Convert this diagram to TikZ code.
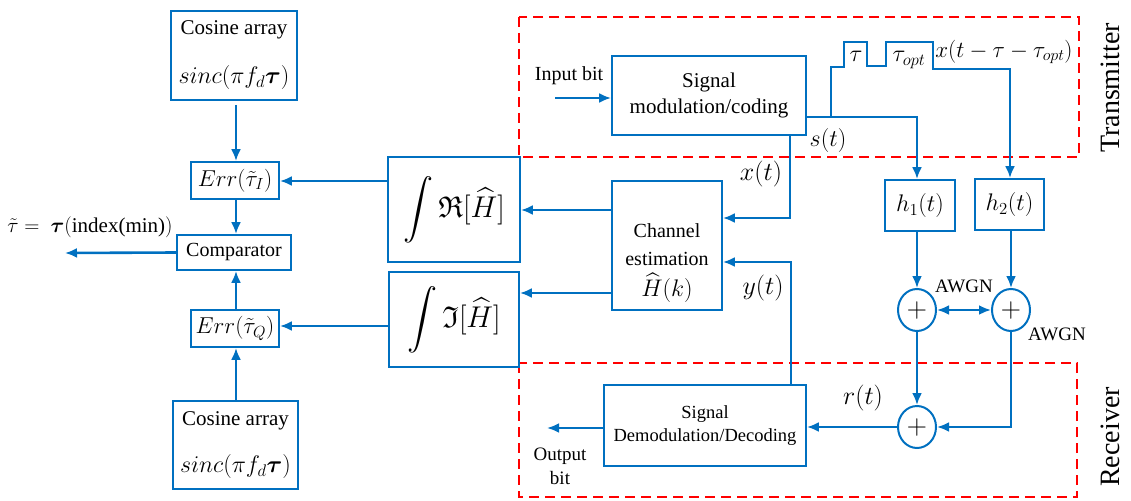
\RequirePackage{fix-cm}
\documentclass[tikz,border=0pt]{standalone}
\usepackage{amsmath,amssymb}
\usepackage{fontspec}
\setmainfont{Liberation Serif}
\usetikzlibrary{arrows.meta,shapes.geometric,calc}
\definecolor{myblue}{RGB}{0,112,192}
\definecolor{myred}{RGB}{255,0,0}
\newcommand{\mfs}[1]{\fontsize{#1}{#1}\selectfont}
\begin{document}
\begin{tikzpicture}[x=1pt,y=-1pt,
  blk/.style={draw=myblue,line width=1.8pt,inner sep=0pt,align=center,font=\fontsize{21}{25}\selectfont},
  arr/.style={draw=myblue,line width=2.6pt,-{Latex[length=12pt,width=10pt]}},
  dbl/.style={draw=myblue,line width=2.6pt,{Latex[length=12pt,width=10pt]}-{Latex[length=12pt,width=10pt]}},
  sumnode/.style={draw=myblue,line width=2pt,ellipse,minimum width=38pt,minimum height=42pt,inner sep=0pt,font=\fontsize{28}{28}\selectfont},
  zone/.style={draw=myred,line width=2pt,dash pattern=on 10pt off 6pt},
  lbl/.style={font=\fontsize{26}{30}\selectfont,inner sep=0pt},
  txt/.style={font=\fontsize{20}{24}\selectfont,inner sep=0pt,align=center}]
\useasboundingbox (0,0) rectangle (1131,500);
% zones
\draw[zone] (519,17) rectangle (1079,157);
\draw[zone] (519,363) rectangle (1077,497);
\node[rotate=90,font=\fontsize{28}{32}\selectfont] (tx) at (1110,88) {Transmitter};
\node[rotate=90,font=\fontsize{28}{32}\selectfont] (rx) at (1110,437) {Receiver};
% blocks
\node[blk,minimum width=194pt,minimum height=79pt,font=\fontsize{21}{25}\selectfont] (mod) at (709,95.5) {Signal\\[1pt]modulation/coding};
\node[blk,minimum width=110pt,minimum height=129pt] (chest) at (667,245.5) {};
\node[txt,font=\fontsize{20}{24}\selectfont] (chestT) at (667,263) {Channel\\[4pt]estimation\\[7pt]{\mfs{24}$\widehat{H}(k)$}};
\node[blk,minimum width=132pt,minimum height=105pt,font=\fontsize{30}{34}\selectfont] (re) at (454,209.5) {$\displaystyle\int\mathfrak{R}[\widehat{H}]$};
\node[blk,minimum width=130pt,minimum height=95pt,font=\fontsize{30}{34}\selectfont] (im) at (454,319.5) {$\displaystyle\int\mathfrak{I}[\widehat{H}]$};
\node[blk,minimum width=88pt,minimum height=37pt,font=\fontsize{23}{25}\selectfont] (errI) at (235,180.5) {$Err(\tilde{\tau}_I)$};
\node[blk,minimum width=114pt,minimum height=35pt,font=\fontsize{20}{24}\selectfont] (comp) at (234,252.5) {Comparator};
\node[blk,minimum width=88pt,minimum height=37pt,font=\fontsize{23}{25}\selectfont] (errQ) at (235,328.5) {$Err(\tilde{\tau}_Q)$};
\node[blk,minimum width=126pt,minimum height=89pt] (cos1) at (234,55.5) {Cosine array\\[24pt]{\mfs{24}$sinc(\pi f_d\boldsymbol{\tau})$}};
\node[blk,minimum width=125pt,minimum height=88pt] (cos2) at (235.5,445) {Cosine array\\[22pt]{\mfs{24}$sinc(\pi f_d\boldsymbol{\tau})$}};
\node[blk,minimum width=70pt,minimum height=51pt,font=\fontsize{24}{28}\selectfont] (h1) at (920,205.5) {$h_1(t)$};
\node[blk,minimum width=69pt,minimum height=51pt,font=\fontsize{24}{28}\selectfont] (h2) at (1009.5,204.5) {$h_2(t)$};
\node[blk,minimum width=202pt,minimum height=81pt,font=\fontsize{18.5}{22}\selectfont] (demod) at (705,425.5) {Signal\\[1pt]Demodulation/Decoding};
\node[sumnode] (s1) at (917,310) {$+$};
\node[sumnode] (s2) at (1011,310) {$+$};
\node[sumnode] (s3) at (917,427) {$+$};
% labels
\node[txt] (inb) at (569,76) {Input bit};
\node[lbl,font=\fontsize{24}{28}\selectfont] (st) at (828,141) {$s(t)$};
\node[lbl,font=\fontsize{24}{28}\selectfont] (tau) at (856,56) {$\tau$};
\node[lbl,font=\fontsize{24}{28}\selectfont] (tauo) at (909,60) {$\tau_{opt}$};
\node[lbl,font=\fontsize{23}{27}\selectfont] (xd) at (1004,52) {$x(t-\tau-\tau_{opt})$};
\node[lbl] (xtl) at (761,174) {$x(t)$};
\node[lbl] (ytl) at (763,288) {$y(t)$};
\node[lbl] (rtl) at (863,398) {$r(t)$};
\node[txt,font=\fontsize{19}{23}\selectfont] (aw1) at (964,286) {AWGN};
\node[txt,font=\fontsize{19}{23}\selectfont] (aw2) at (1057,334) {AWGN};
\node[txt,font=\fontsize{19}{23}\selectfont] (outb) at (560,466) {Output\\[1pt]bit};
\node[txt,font=\fontsize{21}{25}\selectfont] (eq) at (90,227) {$\tilde{\tau}=\ \boldsymbol{\tau}(\text{index(min)})$};
% coordinates
\coordinate (inS) at (555,98);
\coordinate (mo) at (806,117);
\coordinate (br) at (831,117);
\coordinate (xt) at (790,218);
\coordinate (yt) at (791,262);
\coordinate (cr) at (612,210);
\coordinate (ci) at (612,293);
\coordinate (rI) at (388,181);
\coordinate (iQ) at (389,326);
\coordinate (cmpOut) at (65,253);
\coordinate (dOut) at (547,428);
\coordinate (s2c) at (1011,427);
% connectors
\draw[arr] (inS) -- (inS -| mod.west);
\draw[arr] (mo) -| (s1 |- h1.north);
\draw[arr] (br) -- (831,67) -- (844,67) -- (844,42) -- (867,42) -- (867,66) -- (886,66) -- (886,42) -- (933,42) -- (933,69) -- (1010,69) -- (1010,0 |- h2.north);
\draw[arr] (xt |- mod.south) -- (xt) -- (xt -| chest.east);
\draw[arr] (yt |- demod.north) -- (yt) -- (yt -| chest.east);
\draw[arr] (cr) -- (cr -| re.east);
\draw[arr] (ci) -- (ci -| im.east);
\draw[arr] (rI) -- (rI -| errI.east);
\draw[arr] (iQ) -- (iQ -| errQ.east);
\draw[arr] ($(cos1.south)+(2,4)$) -- ($(errI.north)+(1,0)$);
\draw[arr] ($(errI.south)+(1,0)$) -- ($(comp.north)+(2,0)$);
\draw[arr] ($(errQ.north)+(1,0)$) -- ($(comp.south)+(2,0)$);
\draw[arr] ($(cos2.north)+(0.5,0)$) -- ($(errQ.south)+(1,0)$);
\draw[arr] (comp.west) -- (cmpOut);
\draw[arr] (s1 |- h1.south) -- (s1.north);
\draw[arr] (h2.south -| s2) -- (s2.north);
\draw[dbl] (s1.east) -- (s2.west);
\draw[arr] (s1.south) -- (s3.north);
\draw[arr] (s2.south) -- (s2c) -- (s3.east);
\draw[arr] (s3.west) -- (s3.west -| demod.east);
\draw[arr] (dOut -| demod.west) -- (dOut);
\end{tikzpicture}
\end{document}
